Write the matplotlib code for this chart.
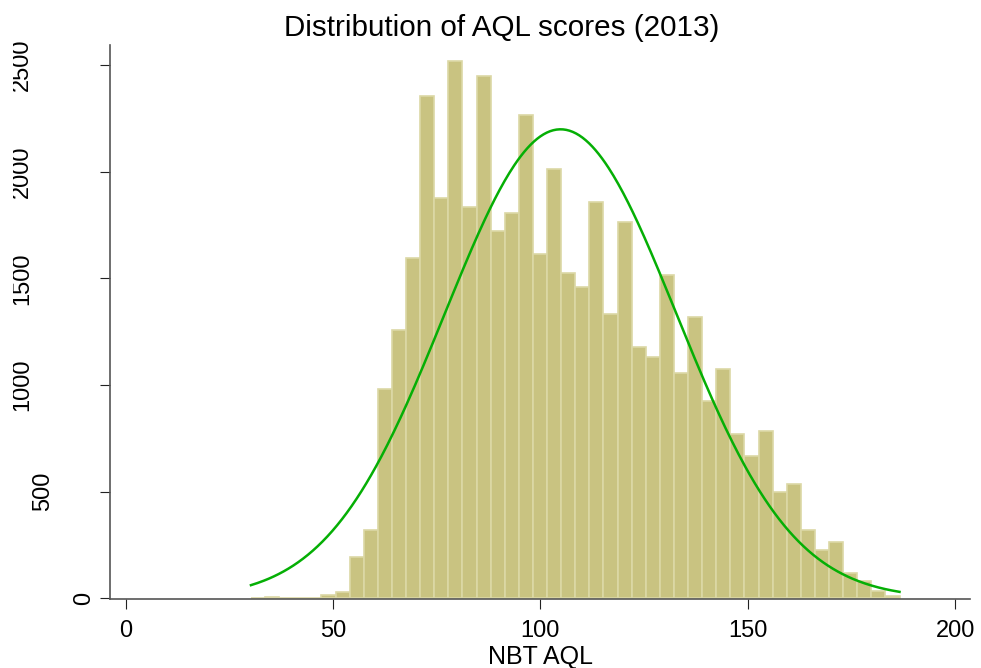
"""
Histogram of NBT AQL scores (2013) with an overlaid normal density,
drawn in the style of a Stata s2color graph.
"""

###############################################################################
# Import packages:
import numpy as np
import matplotlib.pyplot as plt
import matplotlib.transforms as mtransforms

###############################################################################
# Data:

# Histogram bins: 46 bins of equal width starting at the sample minimum
bin_start = 30.2
bin_width = 3.4
bin_counts = [
    2, 8, 0, 0, 0, 14, 32, 193, 322, 980,
    1260, 1596, 2356, 1875, 2520, 1834, 2450, 1722, 1805, 2264,
    1616, 2012, 1525, 1461, 1856, 1331, 1762, 1179, 1133, 1514,
    1055, 1317, 925, 1075, 770, 667, 784, 497, 534, 320,
    226, 262, 117, 81, 36, 11,
]

xticks = [0, 50, 100, 150, 200]
yticks = [0, 500, 1000, 1500, 2000, 2500]

title = "Distribution of AQL scores (2013)"
xlabel = "NBT AQL"

###############################################################################
# Derived values:
counts = np.array(bin_counts, dtype=float)
edges = bin_start + bin_width * np.arange(len(counts) + 1)
centers = 0.5 * (edges[:-1] + edges[1:])
n_obs = counts.sum()
mean = np.sum(counts * centers) / n_obs
sd = np.sqrt(np.sum(counts * (centers - mean) ** 2) / n_obs)

# Normal density scaled to frequencies, over the range of the data
xs = np.linspace(edges[0], edges[-1], 400)
ys = n_obs * bin_width * np.exp(-0.5 * ((xs - mean) / sd) ** 2) / (sd * np.sqrt(2 * np.pi))

###############################################################################
# Plot:
plt.rcParams['font.family'] = ['Liberation Sans', 'DejaVu Sans']

W, H, DPI = 981, 668, 100
fig = plt.figure(figsize=(W / DPI, H / DPI), dpi=DPI)

# Axes placed in pixels: left spine at x=110, right end 970, bottom 599, top 45
ax = fig.add_axes([110 / W, (H - 599) / H, (970 - 110) / W, (599 - 45) / H])

ax.bar(edges[:-1], counts, width=bin_width, align='edge',
       color='#C9C381', edgecolor='#DCD8A6', linewidth=1.2, zorder=2)
ax.plot(xs, ys, color='#05AF05', linewidth=1.8, zorder=3)

ax.set_xlim(-3.79, 203.6)
ax.set_ylim(-3, 2594)

for side in ('top', 'right'):
    ax.spines[side].set_visible(False)
for side in ('left', 'bottom'):
    ax.spines[side].set_color('#555555')
    ax.spines[side].set_linewidth(1.2)

ax.set_xticks(xticks)
ax.set_xticklabels([str(t) for t in xticks], fontsize=17)
ax.tick_params(axis='x', direction='out', length=7.2, width=0.8,
               color='#222222', pad=8)
ax.set_yticks(yticks)
ax.set_yticklabels([])
ax.tick_params(axis='y', direction='out', length=7.2, width=0.8,
               color='#222222')

# Rotated y labels, staggered by their length and clipped at the left edge
# as in the original Stata export
trans = mtransforms.blended_transform_factory(fig.dpi_scale_trans, ax.transData)
clip = mtransforms.TransformedBbox(
    mtransforms.Bbox.from_extents(13 / DPI, 0, W / DPI, H / DPI),
    fig.dpi_scale_trans)
for t in yticks:
    label = str(t)
    x_right = 111 - 20.7 * len(label) + 5
    txt = ax.text(x_right / DPI, t, label, transform=trans, rotation=90,
                  ha='right', va='center', fontsize=17, clip_on=True)
    txt.set_clip_box(clip)

ax.set_xlabel(xlabel, fontsize=18, labelpad=2)

fig.text(502 / W, 1 - 36 / H, title, ha='center', va='baseline', fontsize=21.3)

fig.savefig('out.png', dpi=DPI)
